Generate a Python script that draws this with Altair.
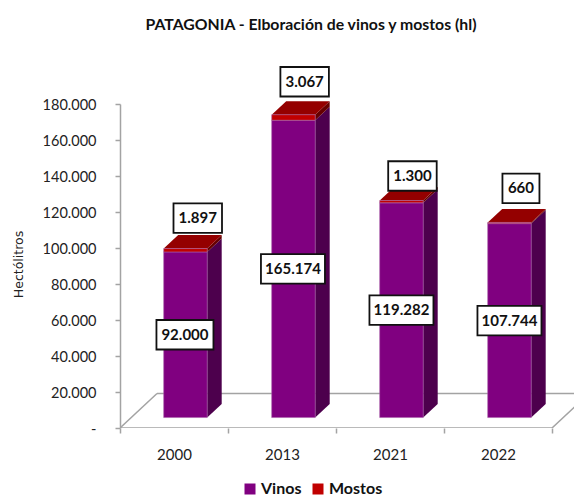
import altair as alt
import pandas as pd

categories = ["2000", "2013", "2021", "2022"]
vinos = [92000, 165174, 119282, 107744]
mostos = [1897, 3067, 1300, 660]
y_ticks = [0, 20000, 40000, 60000, 80000, 100000, 120000, 140000, 160000, 180000]
title_text = "PATAGONIA - Elboración de vinos y mostos (hl)"

# scale of the picture
PX_X = 108.0            # px per category
PX_Y = 0.0018           # px per hl
W, H = 454, 324
BASE = 5800             # hl equivalent of the 3D floor offset
BAR_L, BAR_W = 43.7 / PX_X, 43.5 / PX_X
DX, DY = 14.5 / PX_X, 13.5 / PX_Y
FX, FY = 37 / PX_X, 34.5 / PX_Y

# label placement, px from the centre of the front face / from the segment
vino_dx = [-0.5, -0.5, 0, 0]
mosto_dx = [12.3, 11.2, 11, 11.5]
mosto_up = [30.5, 33, 24.5, 34]
box_w = {3: 37, 5: 48.5, 6: 57, 7: 64}
BOX_H = 29.5


def fmt(v):
    return f"{v:,}".replace(",", ".")


front, side, top, boxes = [], [], [], []
for i, cat in enumerate(categories):
    xl = i + BAR_L
    xr = xl + BAR_W
    y0 = BASE
    y1 = BASE + vinos[i]
    y2 = y1 + mostos[i]
    for s, a, b in (("Vinos", y0, y1), ("Mostos", y1, y2)):
        front.append(dict(cat=cat, series=s, x=xl, x2=xr, y=a, y2=b))
        side.append(dict(cat=cat, series=s, x=xr, y=a, y2=b))
        side.append(dict(cat=cat, series=s, x=xr + DX, y=a + DY, y2=b + DY))
    top.append(dict(cat=cat, y=y2, x=xl, x2=xr))
    top.append(dict(cat=cat, y=y2 + DY, x=xl + DX, x2=xr + DX))
    cx = (xl + xr) / 2
    for text, bx, by in (
        (fmt(vinos[i]), cx + vino_dx[i] / PX_X, (y0 + y1) / 2),
        (fmt(mostos[i]), cx + mosto_dx[i] / PX_X, y2 + mosto_up[i] / PX_Y),
    ):
        hw = box_w[len(text)] / 2 / PX_X
        hh = BOX_H / 2 / PX_Y
        boxes.append(dict(text=text, x=bx, x1=bx - hw, x2=bx + hw, y=by, y1=by - hh, y2=by + hh))

front, side, top, boxes = map(pd.DataFrame, (front, side, top, boxes))

xmax = W / PX_X
floor = pd.DataFrame(
    [
        dict(k="front", x=0, y=0), dict(k="front", x=4, y=0),
        dict(k="back", x=FX, y=FY), dict(k="back", x=xmax + 1, y=FY),
        dict(k="left", x=0, y=0), dict(k="left", x=FX, y=FY),
        dict(k="right", x=4, y=0), dict(k="right", x=4 + FX, y=FY),
    ]
)

GREY = "#a3a3a3"
x_scale = alt.Scale(domain=[0, xmax], nice=False, zero=False)
y_scale = alt.Scale(domain=[0, 180000], nice=False, zero=False)
x_axis = alt.Axis(
    values=[0, 1, 2, 3, 4], domain=False, grid=False, title=None, tickSize=5, tickColor=GREY, tickWidth=1.5,
    labelExpr="['2000','2013','2021','2022',''][datum.value]", labelOffset=54, labelPadding=14,
    labelFont="Lato", labelFontSize=15, labelColor="#222222", labelAlign="center", labelFlush=False,
    labelOverlap=False, labelBound=False,
)
y_axis = alt.Axis(
    values=y_ticks, grid=False, title="Hectólitros", titleFont="DejaVu Sans", titleFontSize=12.5, titleFontWeight="normal",
    titleColor="#222222", titleX=-102, titleY=160, titleAngle=270, titleAlign="center", titleBaseline="middle",
    domainColor=GREY, domainWidth=1.5, tickColor=GREY, tickWidth=1.5, tickSize=5, labelPadding=19,
    labelExpr="datum.value == 0 ? '-' : replace(format(datum.value, ','), ',', '.')",
    labelFont="Lato", labelFontSize=14.5, labelColor="#222222", labelOverlap=False, labelFlush=False, labelOffset=1,
)


def X(f="x"):
    return alt.X(f"{f}:Q", scale=x_scale, axis=x_axis)


def Y(f="y"):
    return alt.Y(f"{f}:Q", scale=y_scale, axis=y_axis)


layers = [
    alt.Chart(floor).mark_line(color=GREY, strokeWidth=1.5, clip=True).encode(x=X(), y=Y(), detail="k:N"),
]
for s, c in (("Vinos", "#4d004d"), ("Mostos", "#660000")):
    layers.append(
        alt.Chart(side[side.series == s]).mark_area(color=c, opacity=1, orient="vertical").encode(
            x=X(), y=Y(), y2="y2:Q", detail="cat:N"
        )
    )
layers.append(
    alt.Chart(top).mark_area(color="#940000", opacity=1, orient="horizontal").encode(
        y=Y(), x=X(), x2="x2:Q", detail="cat:N"
    )
)
layers.append(
    alt.Chart(front).mark_rect(stroke="#a860a8", strokeWidth=0.6).encode(
        x=X(), x2="x2:Q", y=Y(), y2="y2:Q",
        color=alt.Color(
            "series:N",
            scale=alt.Scale(domain=["Vinos", "Mostos"], range=["#800080", "#c00000"]),
            legend=alt.Legend(
                title=None, orient="none", legendX=122, legendY=377, direction="horizontal",
                symbolType="square", symbolSize=121, symbolStrokeWidth=0, labelFont="Lato", labelFontSize=16,
                labelFontWeight="bold", labelColor="#111111", labelOffset=3, columnPadding=8,
            ),
        ),
    )
)
layers.append(
    alt.Chart(boxes).mark_rect(fill="white", stroke="#111111", strokeWidth=1.8).encode(
        x=X("x1"), x2="x2:Q", y=Y("y1"), y2="y2:Q"
    )
)
layers.append(
    alt.Chart(boxes).mark_text(font="Lato", fontSize=15, fontWeight="bold", color="#111111", baseline="middle").encode(
        x=X(), y=Y(), text="text:N"
    )
)

chart = (
    alt.layer(*layers)
    .properties(
        width=W,
        height=H,
        padding={"left": 112, "top": 96, "right": 0, "bottom": 68},
        autosize=alt.AutoSizeParams(type="none"),
        title=alt.TitleParams(
            title_text, font="Lato", fontSize=15.8, fontWeight="bold", color="#111111",
            anchor="middle", dx=-36, offset=32,
        ),
    )
    .configure_view(stroke=None)
)

chart.save("out.html", embed_options={"renderer": "svg", "actions": False})
